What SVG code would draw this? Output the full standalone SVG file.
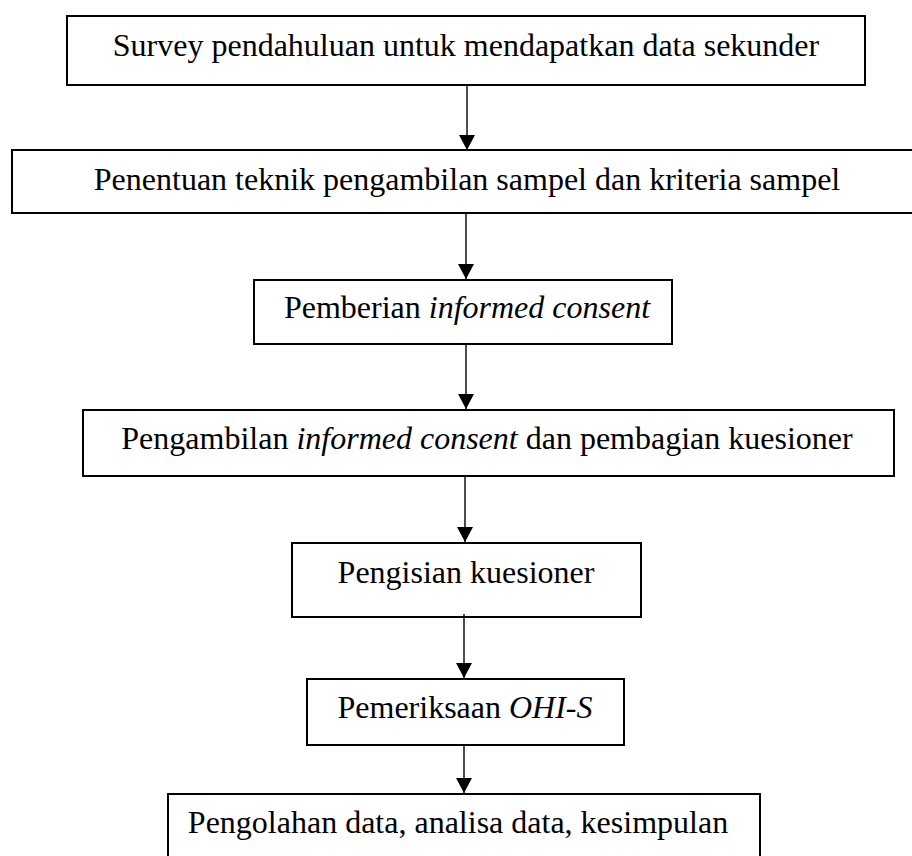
<svg xmlns="http://www.w3.org/2000/svg" width="912" height="856" viewBox="0 0 912 856">
<defs>
<style>
.box{fill:#fff;stroke:#000;stroke-width:2}
.lbl{font-family:"Liberation Serif","Times New Roman",serif;font-size:32px;fill:#000;text-anchor:middle}
.it{font-style:italic}
.conn line{stroke:#000;stroke-width:1.4}
</style>
<marker id="ah" markerUnits="userSpaceOnUse" markerWidth="16" markerHeight="16" viewBox="0 0 16 16" refX="15" refY="8" orient="auto">
<path d="M0,0 L15,8 L0,16 Z" fill="#000"/>
</marker>
</defs>
<rect width="912" height="856" fill="#fff"/>
<g id="n1"><rect class="box" x="67" y="16" width="798" height="69"/><text class="lbl" x="466" y="56">Survey pendahuluan untuk mendapatkan data sekunder</text></g>
<g id="n2"><rect class="box" x="12" y="150" width="910" height="63"/><text class="lbl" x="467" y="190">Penentuan teknik pengambilan sampel dan kriteria sampel</text></g>
<g id="n3"><rect class="box" x="254" y="280" width="418" height="64"/><text class="lbl" x="467" y="318">Pemberian <tspan class="it">informed consent</tspan></text></g>
<g id="n4"><rect class="box" x="83" y="410" width="811" height="66"/><text class="lbl" x="487" y="449">Pengambilan <tspan class="it">informed consent</tspan> dan pembagian kuesioner</text></g>
<g id="n5"><rect class="box" x="292" y="543" width="349" height="74"/><text class="lbl" x="466" y="583">Pengisian kuesioner</text></g>
<g id="n6"><rect class="box" x="307" y="679" width="317" height="66"/><text class="lbl" x="465" y="718">Pemeriksaan <tspan class="it">OHI-S</tspan></text></g>
<g id="n7"><rect class="box" x="168" y="794" width="592" height="80"/><text class="lbl" x="458" y="833">Pengolahan data, analisa data, kesimpulan</text></g>
<g class="conn" id="connectors">
<line x1="467" y1="86" x2="467" y2="150" marker-end="url(#ah)"/>
<line x1="466" y1="214" x2="466" y2="279" marker-end="url(#ah)"/>
<line x1="466" y1="345" x2="466" y2="409" marker-end="url(#ah)"/>
<line x1="465" y1="477" x2="465" y2="542" marker-end="url(#ah)"/>
<line x1="464" y1="614" x2="464" y2="678" marker-end="url(#ah)"/>
<line x1="464" y1="746" x2="464" y2="793" marker-end="url(#ah)"/>
</g>
</svg>
